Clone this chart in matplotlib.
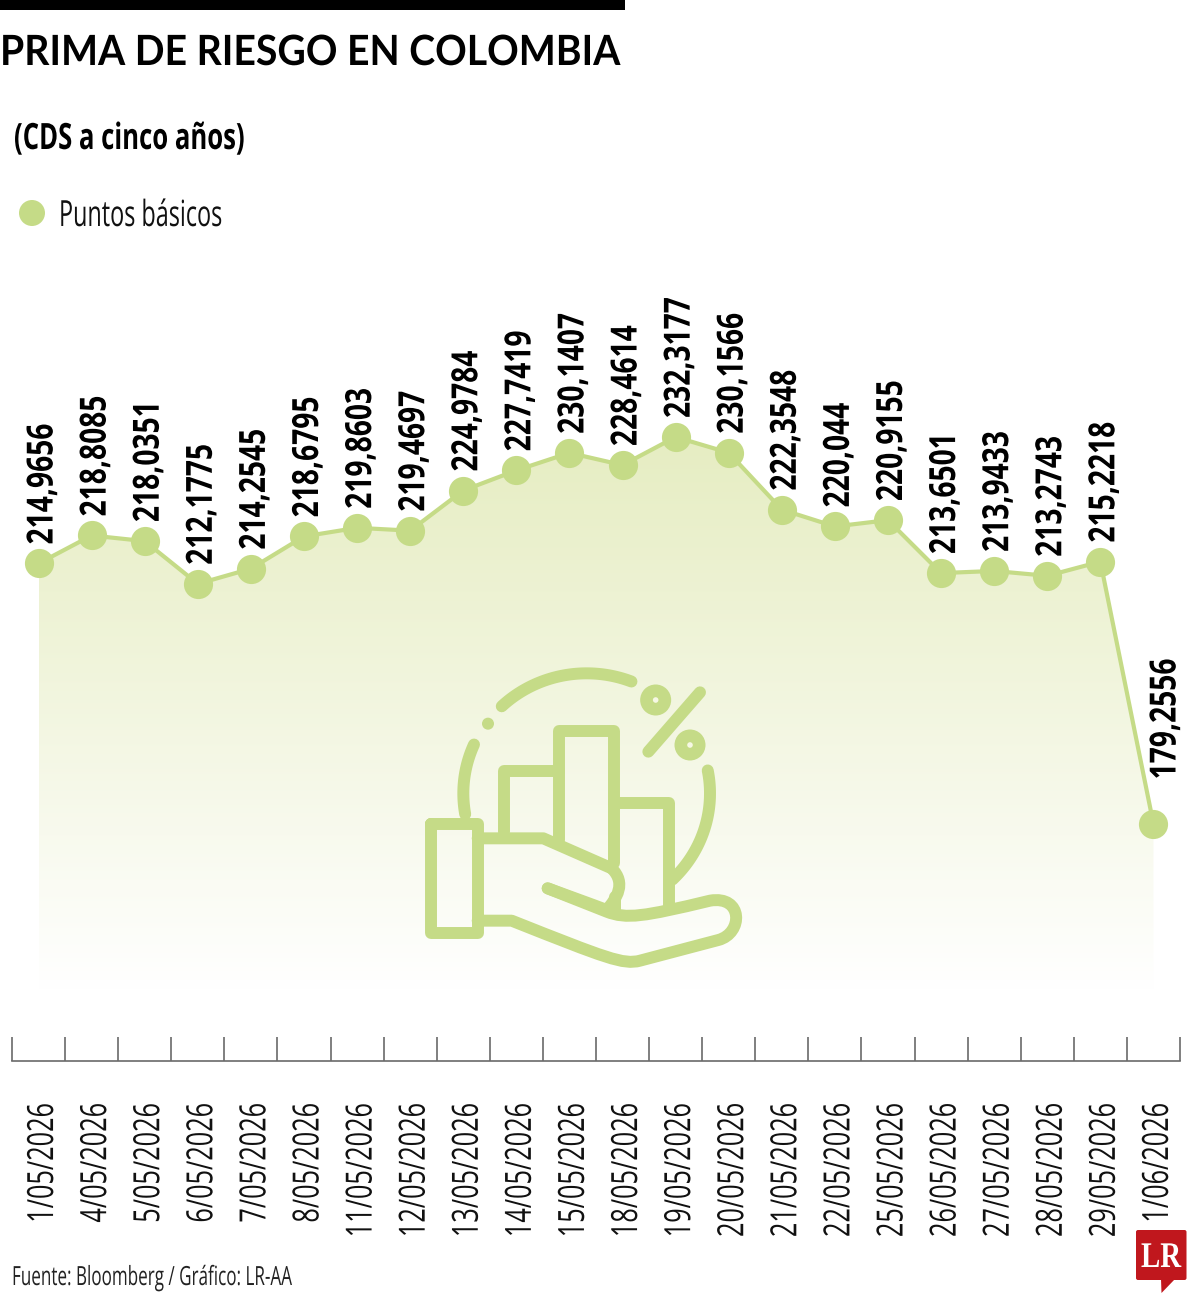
import numpy as np
import matplotlib
matplotlib.use('Agg')
import matplotlib.pyplot as plt
import matplotlib.patheffects as pe
from matplotlib.colors import LinearSegmentedColormap
from matplotlib.patches import Circle, PathPatch, Polygon, FancyBboxPatch
from matplotlib.path import Path
from matplotlib.transforms import Affine2D

fechas = ['1/05/2026', '4/05/2026', '5/05/2026', '6/05/2026', '7/05/2026', '8/05/2026',
          '11/05/2026', '12/05/2026', '13/05/2026', '14/05/2026', '15/05/2026', '18/05/2026',
          '19/05/2026', '20/05/2026', '21/05/2026', '22/05/2026', '25/05/2026', '26/05/2026',
          '27/05/2026', '28/05/2026', '29/05/2026', '1/06/2026']
puntos = [214.9656, 218.8085, 218.0351, 212.1775, 214.2545, 218.6795, 219.8603, 219.4697,
          224.9784, 227.7419, 230.1407, 228.4614, 232.3177, 230.1566, 222.3548, 220.044,
          220.9155, 213.6501, 213.9433, 213.2743, 215.2218, 179.2556]

FUENTE = 'Open Sans'
VERDE = '#c5db87'
FONDO_ICONO = '#f6f8e4'
W, H = 1200, 1306


class Tall(pe.AbstractPathEffect):
    # no condensed family is installed: a smaller size stretched upwards gives the same look
    def __init__(self, sy, dx=0):
        super().__init__()
        self.sy = sy
        self.dx = dx

    def draw_path(self, renderer, gc, tpath, affine, rgbFace=None):
        stretch = Affine2D().scale(1, self.sy) + affine + Affine2D().translate(self.dx, 0)
        renderer.draw_path(gc, tpath, stretch, rgbFace)


def py2val(y):
    # pixel row -> basis points on the chart scale
    return 232.3177 - (y - 437) / 7.29


fig = plt.figure(figsize=(W / 100, H / 100), dpi=100, facecolor='white')

# main chart, x axis runs from x=12 to x=1180, baseline on y=1061
ax = fig.add_axes([12 / W, 1 - 1061 / H, 1168 / W, (1061 - 270) / H])
ax.patch.set_alpha(0)
x = np.arange(len(puntos))
y0 = py2val(1061)
y1 = py2val(270)
base = py2val(990)

# gradient area below the line
cmap = LinearSegmentedColormap.from_list('area', ['#ffffff', '#e6edc2'])
grad = np.linspace(0, 1, 256).reshape(-1, 1)
img = ax.imshow(grad, origin='lower', cmap=cmap, aspect='auto', zorder=1,
                extent=(x[0], x[-1], base, py2val(437)))
area = Polygon(list(zip(x, puntos)) + [(x[-1], base), (x[0], base)], closed=True,
               transform=ax.transData, facecolor='none', edgecolor='none')
ax.add_patch(area)
img.set_clip_path(area)

ax.plot(x, puntos, color=VERDE, lw=3.0, marker='o', ms=21, mec='none', zorder=3, clip_on=False)

for xi, v in zip(x, puntos):
    # the last label sits clear of the falling segment
    off = (5.8, 32) if xi == x[-1] else (0, 13.7)
    ax.annotate(str(v).replace('.', ','), (xi, v), xytext=off, textcoords='offset points',
                rotation=90, ha='center', va='bottom', fontsize=20.3, fontweight='bold',
                family=FUENTE, color='black', zorder=4, path_effects=[Tall(1.28, dx=6.5)])

ax.set_xlim(-0.5, len(puntos) - 0.5)
ax.set_ylim(y0, y1)
ax.yaxis.set_visible(False)
for s in ['top', 'left', 'right']:
    ax.spines[s].set_visible(False)
ax.spines['bottom'].set_color('#6a6a6a')
ax.spines['bottom'].set_linewidth(1.2)

ax.set_xticks(np.arange(len(puntos) + 1) - 0.5)
ax.set_xticklabels([])
ax.tick_params(axis='x', which='major', direction='in', length=17.5, width=1.2, color='#6a6a6a')
ax.set_xticks(x, minor=True)
ax.set_xticklabels(fechas, minor=True, rotation=90, fontsize=18.2, family=FUENTE, color='#111111')
ax.tick_params(axis='x', which='minor', length=0, pad=30.5)
for lab in ax.get_xticklabels(minor=True):
    lab.set_path_effects([Tall(1.43, dx=8)])

# overlay in pixel coordinates for title block, icon and logo
ov = fig.add_axes([0, 0, 1, 1])
ov.set_xlim(0, W)
ov.set_ylim(H, 0)
ov.axis('off')
ov.patch.set_alpha(0)

ov.add_patch(plt.Rectangle((0, 0), 625, 10, color='black', lw=0))
ov.text(0, 65, 'PRIMA DE RIESGO EN COLOMBIA', fontsize=28.2, fontweight='bold', family='Lato',
        va='baseline', ha='left', color='black', path_effects=[Tall(1.064)])
ov.text(14, 149, '(CDS a cinco años)', fontsize=18.5, fontweight='bold', family=FUENTE,
        va='baseline', ha='left', color='black', path_effects=[Tall(1.41)])
ov.add_patch(Circle((32, 213), 13, color=VERDE, lw=0))
ov.text(59, 226, 'Puntos básicos', fontsize=16.85, family=FUENTE, va='baseline', ha='left',
        color='#111111', path_effects=[Tall(1.54)])
ov.text(12, 1285, 'Fuente: Bloomberg / Gráfico: LR-AA', fontsize=12.3, family=FUENTE,
        va='baseline', ha='left', color='#222222', path_effects=[Tall(1.546)])


# icon: hand holding bars, sketched on a 1080x1020 grid scaled by 1/3
def ic(px, py):
    return (400 + px / 3, 650 + py / 3)


def trazo(puntos_ic, codigos=None):
    verts = [ic(*p) for p in puntos_ic]
    ov.add_patch(PathPatch(Path(verts, codigos), fc='none', ec=VERDE, lw=8.6,
                           capstyle='round', joinstyle='round'))


def arco(a0, a1):
    t = np.radians(np.linspace(a0, a1, 60))
    trazo(list(zip(560 + 370 * np.cos(t), 430 - 360 * np.sin(t))))


arco(133.5, 68.7)
arco(156, 190)
arco(11, -46)
ov.add_patch(Circle(ic(264, 221), 6, color=VERDE, lw=0))
trazo([(745, 305), (900, 127)])
for cx, cy in [(767, 150), (870, 285)]:
    ov.add_patch(Circle(ic(cx, cy), 15.5, color=VERDE, lw=0))
    ov.add_patch(Circle(ic(cx, cy), 2.8, color=FONDO_ICONO, lw=0))
trazo([(313, 545), (313, 363), (478, 363)])
trazo([(478, 570), (478, 242), (643, 242), (643, 640)])
trazo([(643, 458), (808, 458), (808, 770)])
trazo([(93, 522), (233, 522), (233, 848), (93, 848), (93, 522)])
M, L, C4 = Path.MOVETO, Path.LINETO, Path.CURVE4
trazo([(233, 565), (430, 565), (635, 655), (680, 700), (650, 745), (620, 780), (580, 765), (443, 715)],
      [M, L, L, C4, C4, C4, L, L])
trazo([(645, 740), (645, 785)])
trazo([(443, 715), (620, 785), (680, 808), (730, 800), (930, 752), (1030, 735), (1030, 850), (955, 870),
       (720, 932), (670, 945), (620, 925), (335, 812), (233, 812)],
      [M, L, C4, C4, L, C4, C4, C4, L, C4, C4, L, L])

# LR logo with speech-bubble tail
ov.add_patch(FancyBboxPatch((1136, 1230), 50.5, 50, boxstyle='round,pad=0,rounding_size=2',
                            fc='#c0171d', ec='none'))
ov.add_patch(Polygon([(1161, 1279), (1175, 1279), (1161.5, 1293)], closed=True, fc='#c0171d', ec='none'))
ov.text(1141, 1267, 'LR', fontsize=20.8, fontweight='bold', family='Liberation Serif', color='white',
        ha='left', va='baseline', path_effects=[Tall(1.25)])

fig.savefig('out.png', dpi=100)
